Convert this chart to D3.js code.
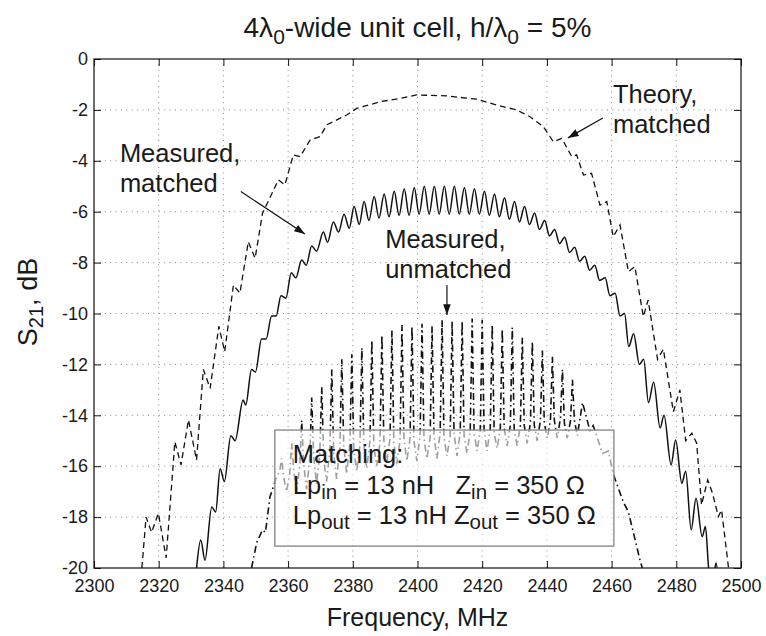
<!DOCTYPE html>
<html>
<head>
<meta charset="utf-8">
<script src="https://cdn.jsdelivr.net/npm/d3@7"></script>
<style>
  body { margin: 0; background: #fff; }
  svg { display: block; }
  text { font-family: "Liberation Sans", Arial, Helvetica, sans-serif; fill: #1a1a1a; }
</style>
</head>
<body>
<div id="chart"></div>
<script>
// ── Data ───────────────────────────────────────────────────
var xTicks = [2300, 2320, 2340, 2360, 2380, 2400, 2420, 2440, 2460, 2480, 2500];
var yTicks = [0, -2, -4, -6, -8, -10, -12, -14, -16, -18, -20];

// Theory, matched  [MHz, dB]
var theory = [
  [2314.8, -20.0], [2316.1, -18.0], [2317.8, -18.6], [2319.9, -17.85], [2322.3, -19.6],
  [2325.0, -15.04], [2326.9, -15.95], [2329.2, -14.18], [2331.7, -15.76], [2333.8, -12.2],
  [2335.9, -12.94], [2338.6, -10.5], [2340.4, -11.5], [2343.1, -8.88], [2345.1, -9.2],
  [2347.7, -7.18], [2349.8, -7.83], [2352.1, -6.06], [2357.0, -4.75], [2359.0, -4.95],
  [2361.6, -3.77], [2363.7, -3.84], [2366.8, -3.18], [2369.9, -3.05], [2371.9, -2.59],
  [2378.1, -2.2], [2381.2, -1.94], [2388.4, -1.68], [2394.6, -1.55], [2399.7, -1.41],
  [2409.0, -1.45], [2418.3, -1.58], [2424.5, -1.81], [2430.6, -2.0], [2434.8, -2.27],
  [2438.9, -2.66], [2442.0, -3.25], [2444.6, -3.12], [2447.7, -3.84], [2449.2, -3.77],
  [2451.3, -4.56], [2453.8, -4.49], [2456.4, -5.74], [2458.5, -5.6], [2460.5, -6.98],
  [2462.6, -6.52], [2465.2, -8.36], [2467.2, -8.16], [2469.8, -10.12], [2471.3, -9.47],
  [2474.2, -11.8], [2476.0, -11.4], [2479.1, -13.86], [2481.1, -13.0], [2482.9, -15.0],
  [2484.8, -14.7], [2486.3, -15.1], [2487.8, -17.52], [2489.7, -16.54], [2491.2, -17.06],
  [2493.0, -17.98], [2494.0, -17.72], [2496.1, -19.95], [2496.3, -20.0]
];

// Measured, matched  [MHz, dB]  (ripple peaks and troughs)
var matched = [
  [2331.7, -20.0], [2333.0, -18.9], [2334.3, -19.7], [2336.4, -17.6], [2337.6, -17.8],
  [2339.0, -16.1], [2340.3, -16.6], [2342.3, -14.8], [2343.6, -15.0], [2346.1, -13.4],
  [2346.9, -13.6], [2348.7, -12.2], [2349.9, -12.3], [2351.8, -11.0], [2353.2, -11.0],
  [2354.9, -10.1], [2356.3, -10.1], [2357.8, -9.3], [2359.3, -9.4], [2361.0, -8.4],
  [2362.4, -8.6], [2364.2, -7.9], [2365.6, -8.1], [2367.3, -7.35], [2368.8, -7.55],
  [2370.9, -6.8], [2372.2, -7.2], [2374.0, -6.4], [2375.6, -6.8], [2377.3, -6.1],
  [2378.9, -6.65], [2380.4, -5.8], [2382.0, -6.5], [2383.5, -5.6], [2385.0, -6.35],
  [2386.6, -5.4], [2388.1, -6.25], [2389.7, -5.3], [2391.2, -6.2], [2392.8, -5.2],
  [2394.3, -6.15], [2395.9, -5.1], [2397.4, -6.15], [2399.0, -5.05], [2400.5, -6.1],
  [2402.1, -5.0], [2403.6, -6.1], [2405.2, -5.0], [2406.7, -6.1], [2408.3, -5.0],
  [2409.8, -6.1], [2411.4, -5.0], [2412.9, -6.1], [2414.5, -5.05], [2416.0, -6.1],
  [2417.6, -5.1], [2419.1, -6.1], [2420.7, -5.2], [2422.2, -6.15], [2423.8, -5.3],
  [2425.3, -6.2], [2426.9, -5.45], [2428.4, -6.3], [2430.0, -5.6], [2431.5, -6.4],
  [2433.1, -5.8], [2434.6, -6.5], [2436.2, -6.05], [2437.7, -6.7], [2439.3, -6.35],
  [2440.8, -6.95], [2442.4, -6.7], [2443.9, -7.25], [2445.5, -7.0], [2447.0, -7.6],
  [2448.6, -7.4], [2450.1, -7.95], [2451.7, -7.75], [2453.2, -8.3], [2454.8, -8.1],
  [2456.3, -8.7], [2458.0, -8.6], [2459.5, -9.3], [2461.1, -9.2], [2462.6, -10.1],
  [2464.0, -10.0], [2465.3, -11.3], [2466.8, -10.8], [2468.6, -12.0], [2469.9, -11.8],
  [2471.4, -13.5], [2473.0, -12.7], [2475.0, -14.5], [2476.2, -14.0], [2478.4, -15.95],
  [2479.8, -14.97], [2481.7, -16.67], [2482.9, -16.2], [2484.6, -18.5], [2486.1, -17.26],
  [2488.0, -18.77], [2489.0, -18.37], [2490.0, -20.0], [2491.2, -20.6], [2492.3, -19.8],
  [2493.0, -20.6]
];

// Measured, unmatched  [MHz, dB]  (sharp peaks, shallow valleys)
var unmatched = [
  [2348.7, -20.0], [2350.3, -19.0], [2352.1, -18.5], [2353.0, -18.6], [2354.4, -17.2],
  [2356.5, -16.4], [2357.4, -16.2],
  [2358.0, -15.7], [2358.6, -16.4], [2359.5, -17.0], [2360.5, -16.3],
  [2361.1, -15.1], [2361.7, -16.1], [2362.6, -17.0], [2363.6, -16.0],
  [2364.2, -14.2], [2364.8, -15.9], [2365.7, -16.9], [2366.7, -15.7],
  [2367.3, -13.3], [2367.9, -15.6], [2368.8, -16.7], [2369.8, -15.5],
  [2370.4, -12.9], [2371.0, -15.7], [2371.9, -16.6], [2372.9, -15.4],
  [2373.5, -12.2], [2374.1, -15.5], [2375.0, -16.5], [2376.0, -15.3],
  [2376.6, -11.8], [2377.2, -15.2], [2378.1, -16.3], [2379.1, -15.1],
  [2379.7, -11.6], [2380.3, -15.3], [2381.2, -16.2], [2382.2, -15.2],
  [2382.8, -11.35], [2383.4, -15.1], [2384.3, -16.1], [2385.3, -15.0],
  [2385.9, -11.05], [2386.5, -15.2], [2387.4, -16.0], [2388.4, -15.1],
  [2389.0, -10.85], [2389.6, -15.0], [2390.5, -15.9], [2391.5, -14.9],
  [2392.1, -10.65], [2392.7, -15.1], [2393.6, -15.9], [2394.6, -15.0],
  [2395.2, -10.45], [2395.8, -14.9], [2396.7, -15.8], [2397.7, -14.9],
  [2398.3, -10.5], [2398.9, -15.0], [2399.8, -15.8], [2400.8, -14.8],
  [2401.4, -10.4], [2402.0, -14.9], [2402.9, -15.7], [2403.9, -14.9],
  [2404.5, -10.5], [2405.1, -14.8], [2406.0, -15.7], [2407.0, -14.7],
  [2407.6, -10.25], [2408.2, -14.9], [2409.1, -15.6], [2410.1, -14.8],
  [2410.7, -10.3], [2411.3, -14.7], [2412.2, -15.6], [2413.2, -14.7],
  [2413.8, -10.3], [2414.4, -14.8], [2415.3, -15.5], [2416.3, -14.6],
  [2416.9, -10.2], [2417.5, -14.7], [2418.4, -15.4], [2419.4, -14.6],
  [2420.0, -10.25], [2420.6, -14.6], [2421.5, -15.4], [2422.5, -14.5],
  [2423.1, -10.45], [2423.7, -14.7], [2424.6, -15.3], [2425.6, -14.5],
  [2426.2, -10.6], [2426.8, -14.5], [2427.7, -15.2], [2428.7, -14.4],
  [2429.3, -10.55], [2429.9, -14.6], [2430.8, -15.2], [2431.8, -14.4],
  [2432.4, -10.95], [2433.0, -14.4], [2433.9, -15.1], [2434.9, -14.3],
  [2435.5, -11.1], [2436.1, -14.4], [2437.0, -15.0], [2438.0, -14.2],
  [2438.6, -11.45], [2439.2, -14.3], [2440.1, -14.9], [2441.1, -14.2],
  [2441.7, -11.7], [2442.3, -14.2], [2443.2, -14.9], [2444.2, -14.1],
  [2444.8, -12.2], [2445.4, -14.3], [2446.3, -14.9], [2447.3, -14.2],
  [2447.9, -12.6], [2448.5, -14.2], [2449.4, -14.8], [2450.4, -14.0],
  [2451.0, -13.5], [2453.3, -14.6], [2454.3, -14.4], [2457.2, -15.5], [2459.0, -15.4],
  [2460.5, -16.3], [2463.6, -17.4], [2465.2, -17.8], [2468.8, -19.7], [2469.5, -20.0]
];

// Annotations in data units: text baselines at [MHz, dB], arrows [from, to]
var notes = [
  { at: [2308.0, -4.05], lines: ["Measured,", "matched"], arrow: [[2345.4, -5.21], [2365.2, -6.88]] },
  { at: [2460.4, -1.73], lines: ["Theory,", "matched"], arrow: [[2457.3, -2.32], [2446.5, -3.10]] },
  { at: [2390.0, -7.43], lines: ["Measured,", "unmatched"], arrow: [[2409.1, -8.88], [2409.1, -10.06]] }
];

var boxCorners = [[2355.9, -14.58], [2460.7, -19.14]];
var boxLines = [
  [["Lp", ""], ["in", "sub"], [" = 13 nH   Z", ""], ["in", "sub"], [" = 350 \u03a9", ""]],
  [["Lp", ""], ["out", "sub"], [" = 13 nH Z", ""], ["out", "sub"], [" = 350 \u03a9", ""]]
];

(function () {
  var width = 766, height = 636;
  var margin = { top: 59, right: 25, bottom: 68, left: 94 };
  var iW = width - margin.left - margin.right;
  var iH = height - margin.top - margin.bottom;

  var svg = d3.select("#chart").append("svg")
    .attr("width", width).attr("height", height);

  var x = d3.scaleLinear().domain([2300, 2500]).range([margin.left, margin.left + iW]);
  var y = d3.scaleLinear().domain([-20, 0]).range([margin.top + iH, margin.top]);

  // ── Grid ────────────────────────────────────────────────
  var grid = svg.append("g")
    .attr("stroke", "#8a8a8a").attr("stroke-width", 1).attr("stroke-dasharray", "1,4.4");
  grid.selectAll(".gx").data(xTicks.slice(1, -1)).join("line")
    .attr("x1", function (d) { return x(d); }).attr("x2", function (d) { return x(d); })
    .attr("y1", y(0)).attr("y2", y(-20));
  grid.selectAll(".gy").data(yTicks.slice(1, -1)).join("line")
    .attr("y1", function (d) { return y(d); }).attr("y2", function (d) { return y(d); })
    .attr("x1", x(2300)).attr("x2", x(2500));

  // ── Curves ──────────────────────────────────────────────
  svg.append("defs").append("clipPath").attr("id", "plotclip")
    .append("rect").attr("x", x(2300)).attr("y", y(0)).attr("width", iW).attr("height", iH);
  var area = svg.append("g").attr("clip-path", "url(#plotclip)");

  var line = d3.line()
    .x(function (d) { return x(d[0]); })
    .y(function (d) { return y(d[1]); });

  area.append("path").datum(unmatched)
    .attr("d", line).attr("fill", "none").attr("stroke", "#111")
    .attr("stroke-width", 1.6).attr("stroke-dasharray", "7,3.5,1.5,3.5");
  area.append("path").datum(theory)
    .attr("d", line).attr("fill", "none").attr("stroke", "#111")
    .attr("stroke-width", 1.3).attr("stroke-dasharray", "6,4");
  area.append("path").datum(matched)
    .attr("d", d3.line().curve(d3.curveMonotoneX)
      .x(function (d) { return x(d[0]); }).y(function (d) { return y(d[1]); }))
    .attr("fill", "none").attr("stroke", "#111").attr("stroke-width", 1.5);

  // ── Matching box ────────────────────────────────────────
  var bx0 = x(boxCorners[0][0]), by0 = y(boxCorners[0][1]);
  var bx1 = x(boxCorners[1][0]), by1 = y(boxCorners[1][1]);
  svg.append("rect")
    .attr("x", bx0).attr("y", by0).attr("width", bx1 - bx0).attr("height", by1 - by0)
    .attr("fill", "#fff").attr("fill-opacity", 0.6)
    .attr("stroke", "#8c8c8c").attr("stroke-width", 1.4);
  var tx = bx0 + 18;
  svg.append("text").attr("x", tx).attr("y", by0 + 33).attr("font-size", 25.5).text("Matching:");
  boxLines.forEach(function (parts, i) {
    var t = svg.append("text").attr("x", tx).attr("y", by0 + 64 + i * 30)
      .attr("font-size", 25.5).style("white-space", "pre");
    parts.forEach(function (p, j) {
      var s = t.append("tspan").text(p[0]);
      if (p[1] === "sub") s.attr("font-size", 20.5).attr("dy", 5);
      else if (j > 0 && parts[j - 1][1] === "sub") s.attr("dy", -5);
    });
  });

  // ── Axes ────────────────────────────────────────────────
  function styleAxis(g) {
    g.select(".domain").remove();
    g.selectAll(".tick line").attr("stroke", "#111").attr("stroke-width", 1);
    g.selectAll(".tick text").attr("font-family", null).attr("font-size", 18).attr("fill", "#1a1a1a");
  }
  svg.append("g").attr("transform", "translate(0," + y(-20) + ")")
    .call(d3.axisBottom(x).tickValues(xTicks).tickSize(-7).tickPadding(11).tickFormat(d3.format("d")))
    .call(styleAxis);
  svg.append("g").attr("transform", "translate(0," + y(0) + ")")
    .call(d3.axisTop(x).tickValues(xTicks).tickSize(-7).tickFormat(""))
    .call(styleAxis);
  svg.append("g").attr("transform", "translate(" + x(2300) + ",0)")
    .call(d3.axisLeft(y).tickValues(yTicks).tickSize(-7).tickPadding(6).tickFormat(d3.format("d")))
    .call(styleAxis);
  svg.append("g").attr("transform", "translate(" + x(2500) + ",0)")
    .call(d3.axisRight(y).tickValues(yTicks).tickSize(-7).tickFormat(""))
    .call(styleAxis);
  svg.selectAll(".tick text").text(function () { return this.textContent.replace("\u2212", "-"); });

  svg.append("rect")
    .attr("x", x(2300)).attr("y", y(0)).attr("width", iW).attr("height", iH)
    .attr("fill", "none").attr("stroke", "#111").attr("stroke-width", 1.2);

  // ── Titles ──────────────────────────────────────────────
  var title = svg.append("text").attr("x", margin.left + iW / 2).attr("y", 37)
    .attr("text-anchor", "middle").attr("font-size", 28);
  title.append("tspan").text("4\u03bb");
  title.append("tspan").attr("font-size", 21).attr("dy", 7).text("0");
  title.append("tspan").attr("dy", -7).text("-wide unit cell, h/\u03bb");
  title.append("tspan").attr("font-size", 21).attr("dy", 7).text("0");
  title.append("tspan").attr("dy", -7).text(" = 5%");

  svg.append("text").attr("x", margin.left + iW / 2).attr("y", 626)
    .attr("text-anchor", "middle").attr("font-size", 25).text("Frequency, MHz");

  var yl = svg.append("text").attr("transform", "translate(37,302) rotate(-90)")
    .attr("text-anchor", "middle").attr("font-size", 27);
  yl.append("tspan").text("S");
  yl.append("tspan").attr("font-size", 20).attr("dy", 6).text("21");
  yl.append("tspan").attr("dy", -6).text(", dB");

  // ── Annotations ─────────────────────────────────────────
  svg.append("defs").append("marker").attr("id", "arrowhead")
    .attr("viewBox", "0 0 10 7").attr("refX", 10).attr("refY", 3.5)
    .attr("markerWidth", 11).attr("markerHeight", 7.5).attr("markerUnits", "userSpaceOnUse")
    .attr("orient", "auto")
    .append("path").attr("d", "M0,0 L10,3.5 L0,7 z").attr("fill", "#111");

  notes.forEach(function (n) {
    n.lines.forEach(function (l, i) {
      svg.append("text").attr("x", x(n.at[0])).attr("y", y(n.at[1]) + i * 30)
        .attr("font-size", 25.5).text(l);
    });
    svg.append("line")
      .attr("x1", x(n.arrow[0][0])).attr("y1", y(n.arrow[0][1]))
      .attr("x2", x(n.arrow[1][0])).attr("y2", y(n.arrow[1][1]))
      .attr("stroke", "#111").attr("stroke-width", 1.2)
      .attr("marker-end", "url(#arrowhead)");
  });
})();
</script>
</body>
</html>
